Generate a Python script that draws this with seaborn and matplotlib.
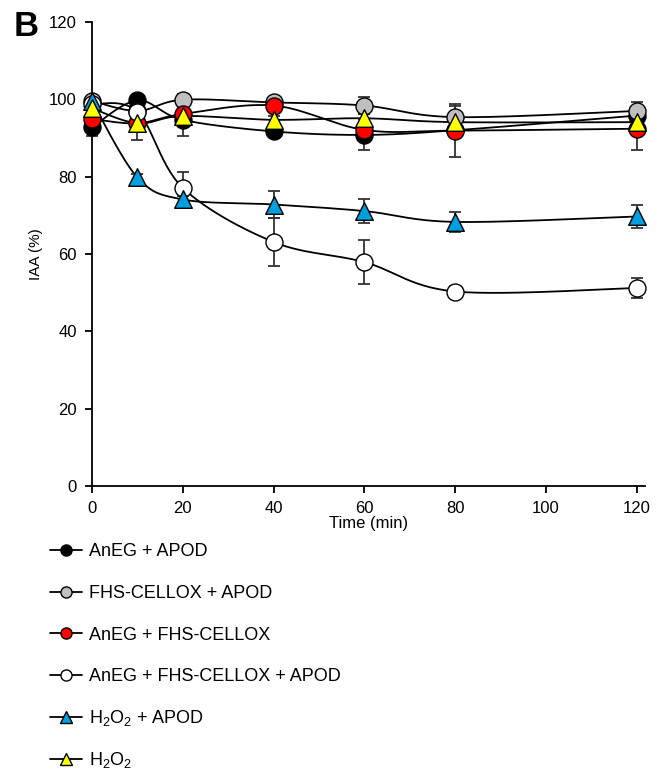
import numpy as np
import pandas as pd
import matplotlib
matplotlib.use("Agg")
import matplotlib.pyplot as plt
from matplotlib.lines import Line2D
import seaborn as sns

sns.set_theme(style="white")
plt.rcParams['font.family'] = ['Liberation Sans', 'DejaVu Sans']
plt.rcParams['mathtext.fontset'] = 'custom'
plt.rcParams['mathtext.rm'] = 'Liberation Sans'
plt.rcParams['mathtext.it'] = 'Liberation Sans:italic'
for key in ['text.color', 'axes.labelcolor', 'xtick.color', 'ytick.color']:
    plt.rcParams[key] = 'black'

time = [0, 10, 20, 40, 60, 80, 120]
series_names = ["AnEG + APOD", "FHS-CELLOX + APOD", "AnEG + FHS-CELLOX",
                "AnEG + FHS-CELLOX + APOD", "H$_\\mathregular{2}$O$_\\mathregular{2}$ + APOD",
                "H$_\\mathregular{2}$O$_\\mathregular{2}$"]
aneg_apod = [92.8, 99.7, 94.7, 91.7, 90.8, 92.0, 95.8]
aneg_apod_err = [2.3, 0.8, 4.3, 1.0, 4.0, 1.5, 1.5]
fhs_apod = [99.6, 97.0, 99.9, 99.2, 98.4, 95.4, 97.0]
fhs_apod_err = [1.0, 1.0, 1.5, 1.5, 2.1, 3.0, 2.3]
aneg_fhs = [94.9, 93.8, 96.2, 98.4, 92.1, 91.9, 92.4]
aneg_fhs_err = [1.0, 2.0, 1.5, 1.5, 1.5, 6.9, 5.6]
aneg_fhs_apod = [98.8, 96.8, 77.1, 63.1, 57.9, 50.3, 51.2]
aneg_fhs_apod_err = [1.0, 1.5, 4.1, 6.2, 5.7, 1.5, 2.5]
h2o2_apod = [99.5, 79.8, 74.1, 72.8, 71.1, 68.3, 69.7]
h2o2_apod_err = [0.8, 1.0, 1.0, 3.4, 3.2, 2.5, 2.9]
h2o2 = [97.7, 93.8, 95.7, 94.7, 95.1, 94.1, 94.1]
h2o2_err = [1.0, 4.4, 1.0, 1.0, 1.0, 1.0, 1.0]

values = [aneg_apod, fhs_apod, aneg_fhs, aneg_fhs_apod, h2o2_apod, h2o2]
errors = [aneg_apod_err, fhs_apod_err, aneg_fhs_err, aneg_fhs_apod_err, h2o2_apod_err, h2o2_err]
colors = ["#000000", "#bfbfbf", "#ff0000", "#ffffff", "#00a0e0", "#ffff00"]
markers = ["o", "o", "o", "o", "^", "^"]

XMAX, YMAX = 121.8, 120.0
AX_W, AX_H = 553.0, 464.0


def smooth(x, y, n=30):
    # Catmull-Rom (Excel-like smoothing) in display-proportional space
    px = np.asarray(x, float) / XMAX * AX_W
    py = np.asarray(y, float) / YMAX * AX_H
    P = np.column_stack([px, py])
    P = np.vstack([P[0], P, P[-1]])
    out = []
    for i in range(1, len(P) - 2):
        p0, p1, p2, p3 = P[i - 1], P[i], P[i + 1], P[i + 2]
        c1 = p1 + (p2 - p0) / 6.0
        c2 = p2 - (p3 - p1) / 6.0
        t = np.linspace(0, 1, n)[:, None]
        seg = ((1 - t) ** 3) * p1 + 3 * ((1 - t) ** 2) * t * c1 + 3 * (1 - t) * t ** 2 * c2 + t ** 3 * p2
        out.append(seg if i == 1 else seg[1:])
    out = np.vstack(out)
    return out[:, 0] / AX_W * XMAX, out[:, 1] / AX_H * YMAX


fig = plt.figure(figsize=(6.62, 7.71), dpi=100)
ax = fig.add_axes([92 / 662, 1 - 486 / 771, 553 / 662, 464 / 771])

# lines
for k, (name, v) in enumerate(zip(series_names, values)):
    sx, sy = smooth(time, v)
    df = pd.DataFrame({"x": sx, "y": sy})
    sns.lineplot(data=df, x="x", y="y", sort=False, estimator=None, ax=ax,
                 color="black", linewidth=1.3, zorder=2 + k * 0.01)

# error bars
for k, (v, e) in enumerate(zip(values, errors)):
    ax.errorbar(time, v, yerr=e, fmt="none", ecolor="#333333", elinewidth=1.3,
                capsize=4.5, capthick=1.3, zorder=3)

# markers
for k, (v, c, m) in enumerate(zip(values, colors, markers)):
    df = pd.DataFrame({"t": time, "v": v})
    sns.scatterplot(data=df, x="t", y="v", ax=ax, marker=m, s=150 if m == "o" else 160,
                    color=c, edgecolor="black", linewidth=1.0, zorder=4 + k * 0.1)

ax.set_xlim(0, XMAX)
ax.set_ylim(0, YMAX)
ax.set_xticks([0, 20, 40, 60, 80, 100, 120])
ax.set_yticks([0, 20, 40, 60, 80, 100, 120])
ax.set_xlabel("Time (min)", fontsize=12, labelpad=0)
ax.set_ylabel("IAA (%)", fontsize=11, labelpad=4)
for s in ["top", "right"]:
    ax.spines[s].set_visible(False)
for s in ["left", "bottom"]:
    ax.spines[s].set_color("black")
    ax.spines[s].set_linewidth(1.3)
ax.tick_params(axis="both", direction="out", length=5, width=1.3, color="black",
               labelsize=12, pad=6, left=True, bottom=True)
for coll in ax.collections:
    coll.set_clip_on(False)
for ln in ax.lines:
    ln.set_clip_on(False)

fig.text(14 / 662, 1 - 26 / 771, "B", fontsize=25, fontweight="bold", va="center", ha="left")

# legend: one row per series, evenly spaced
for i, (name, c, m) in enumerate(zip(series_names, colors, markers)):
    h = Line2D([0], [0], color="black", lw=1.3, marker=m, markersize=8,
               markerfacecolor=c, markeredgecolor="black", markeredgewidth=1.0)
    yc = 552 + 41.6 * i
    fig.legend([h], [name], loc="center left", bbox_to_anchor=(50 / 662, 1 - yc / 771),
               frameon=False, fontsize=13, handlelength=1.75, handletextpad=0.4,
               borderaxespad=0, borderpad=0)

fig.savefig("out.png", dpi=100)
